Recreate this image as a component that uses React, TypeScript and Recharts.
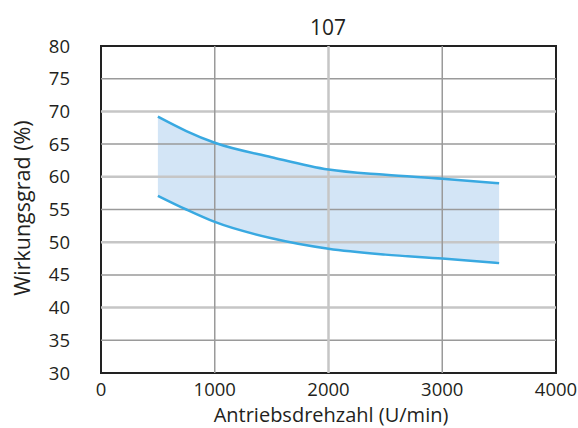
import {
  Area,
  ComposedChart,
  Line,
  ReferenceArea,
  ReferenceLine,
  XAxis,
  YAxis,
} from 'recharts';

const speeds = [500, 750, 1000, 1500, 2000, 2500, 3000, 3500];
const upperEff = [69.2, 67.0, 65.2, 63.0, 61.1, 60.3, 59.7, 59.0];
const lowerEff = [57.1, 55.0, 53.1, 50.6, 49.0, 48.1, 47.5, 46.8];

const xTicks = [0, 1000, 2000, 3000, 4000];
const yTicks = [30, 35, 40, 45, 50, 55, 60, 65, 70, 75, 80];

const TITLE = '107';
const X_LABEL = 'Antriebsdrehzahl (U/min)';
const Y_LABEL = 'Wirkungsgrad (%)';

const FONT = '"Open Sans", "Noto Sans", sans-serif';
const TEXT = '#231f20';
const LINE = '#39a9e1';
const BAND = '#d3e5f6';

const data = speeds.map((s, i) => ({
  speed: s,
  upper: upperEff[i],
  lower: lowerEff[i],
  range: [lowerEff[i], upperEff[i]],
}));

// every 10 % / 2000 rpm gets the light wide line, the rest the darker thin one
const isMajorY = (v: number) => v % 10 === 0;
const isMajorX = (v: number) => v % 2000 === 0;

export default function App() {
  const tick = { fontSize: 18.5, fill: TEXT, fontFamily: FONT };
  const label = {
    position: 'absolute' as const,
    fontFamily: FONT,
    color: TEXT,
    lineHeight: 1,
    whiteSpace: 'nowrap' as const,
  };
  return (
    <div style={{ position: 'absolute', left: 0, top: 0, width: 578, height: 428, background: '#fff' }}>
      <ComposedChart
        width={578}
        height={428}
        data={data}
        margin={{ top: 46, right: 22, bottom: 0, left: 0 }}
      >
        <XAxis
          dataKey="speed"
          type="number"
          domain={[0, 4000]}
          ticks={xTicks}
          tickLine={false}
          axisLine={false}
          tickSize={0}
          tickMargin={10}
          tick={tick}
          height={55}
          interval={0}
        />
        <YAxis
          type="number"
          domain={[30, 80]}
          ticks={yTicks}
          tickLine={false}
          axisLine={false}
          tickSize={0}
          tickMargin={31}
          tick={tick}
          width={101}
          interval={0}
        />
        <Area
          dataKey="range"
          type="monotone"
          stroke="none"
          fill={BAND}
          fillOpacity={1}
          isAnimationActive={false}
        />
        {yTicks
          .filter((v) => v > 30 && v < 80)
          .map((v) => (
            <ReferenceLine
              key={`y${v}`}
              y={v}
              stroke={isMajorY(v) ? '#c6c6c6' : '#9a9a9a'}
              strokeWidth={isMajorY(v) ? 2.5 : 1.5}
            />
          ))}
        {xTicks
          .filter((v) => v > 0 && v < 4000)
          .map((v) => (
            <ReferenceLine
              key={`x${v}`}
              x={v}
              stroke={isMajorX(v) ? '#c6c6c6' : '#9a9a9a'}
              strokeWidth={isMajorX(v) ? 2.5 : 1.5}
            />
          ))}
        <Line
          dataKey="upper"
          type="monotone"
          stroke={LINE}
          strokeWidth={2.5}
          dot={false}
          isAnimationActive={false}
        />
        <Line
          dataKey="lower"
          type="monotone"
          stroke={LINE}
          strokeWidth={2.5}
          dot={false}
          isAnimationActive={false}
        />
        <ReferenceArea
          x1={0}
          x2={4000}
          y1={30}
          y2={80}
          fill="none"
          fillOpacity={0}
          stroke="#222"
          strokeWidth={2}
        />
      </ComposedChart>
      <div style={{ ...label, fontSize: 21, left: 328, top: 27, transform: 'translate(-50%, -50%)' }}>
        {TITLE}
      </div>
      <div style={{ ...label, fontSize: 20, left: 331, top: 414.5, transform: 'translate(-50%, -50%)' }}>
        {X_LABEL}
      </div>
      <div
        style={{
          ...label,
          fontSize: 21.5,
          left: 22,
          top: 208,
          transform: 'translate(-50%, -50%) rotate(-90deg)',
        }}
      >
        {Y_LABEL}
      </div>
    </div>
  );
}
